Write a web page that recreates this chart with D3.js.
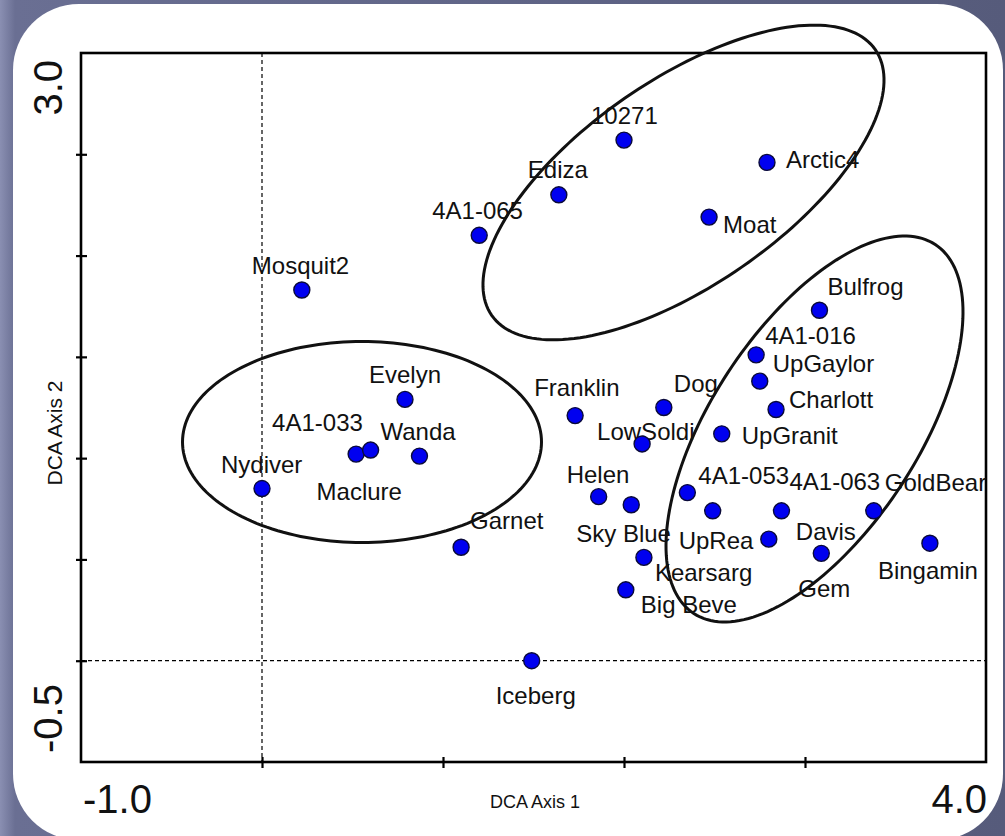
<!DOCTYPE html>
<html>
<head>
<meta charset="utf-8">
<script src="https://cdn.jsdelivr.net/npm/d3@7"></script>
<style>
  html, body { margin: 0; padding: 0; background: #5b6082; }
  svg { display: block; }
  text { font-family: "Liberation Sans", Arial, sans-serif; fill: #111; }
</style>
</head>
<body>
<svg id="chart" width="1005" height="836"></svg>
<script>
// DCA ordination of lake sites: axis 1 vs axis 2 scores
const sites = ["10271", "Ediza", "4A1-065", "Arctic4", "Moat", "Mosquit2", "Nydiver",
  "Evelyn", "4A1-033", "Maclure", "Wanda", "Garnet", "Iceberg", "Franklin", "Dog",
  "LowSoldi", "UpGranit", "Bulfrog", "4A1-016", "UpGaylor", "Charlott", "Helen",
  "Sky Blue", "Kearsarg", "Big Beve", "4A1-053", "UpRea", "4A1-063", "GoldBear",
  "Davis", "Gem", "Bingamin"];
const axis1 = [2.00, 1.64, 1.20, 2.79, 2.47, 0.22, 0.00,
  0.79, 0.52, 0.60, 0.87, 1.10, 1.49, 1.73, 2.22,
  2.10, 2.54, 3.08, 2.73, 2.75, 2.84, 1.86,
  2.04, 2.11, 2.01, 2.35, 2.49, 2.87, 3.38,
  2.80, 3.09, 3.69];
const axis2 = [2.57, 2.30, 2.10, 2.46, 2.19, 1.83, 0.85,
  1.29, 1.02, 1.04, 1.01, 0.56, 0.00, 1.21, 1.25,
  1.07, 1.12, 1.73, 1.51, 1.38, 1.24, 0.81,
  0.77, 0.51, 0.35, 0.83, 0.74, 0.74, 0.74,
  0.60, 0.53, 0.58];

// axis ranges and tick labels
const xDomain = [-1.0, 4.0];
const yDomain = [-0.5, 3.0];
const xTicks = [0, 1, 2, 3];
const yTicks = [0, 0.5, 1.0, 1.5, 2.0, 2.5];
const xEndLabels = ["-1.0", "4.0"];
const yEndLabels = ["-0.5", "3.0"];

// group envelopes: centre and two half-axis vectors, in axis units
const groupCentres = [[0.5525, 1.0797], [2.3287, 2.3608], [3.0525, 1.1439]];
const groupMajor = [[0.9917, 0.0], [1.0597, 0.6556], [0.6669, 0.9108]];
const groupMinor = [[0.0, 0.496], [0.3232, -0.4167], [0.4779, -0.2794]];

// label placement (pixel offsets from each marker to the text baseline start)
const labelOffsets = {
  "10271": [-33, -16], "Ediza": [-31, -17], "4A1-065": [-47, -16], "Arctic4": [19, 6],
  "Moat": [14, 16], "Mosquit2": [-50, -16], "Nydiver": [-41, -16], "Evelyn": [-36, -16],
  "4A1-033": [-84, -23], "Maclure": [-54, 50], "Wanda": [-39, -16], "Garnet": [9, -18],
  "Iceberg": [-36, 43], "Franklin": [-41, -20], "Dog": [10, -16], "LowSoldi": [-45, -4],
  "UpGranit": [20, 10], "Bulfrog": [8, -15], "4A1-016": [9, -11], "UpGaylor": [13, -9],
  "Charlott": [13, -2], "Helen": [-32, -14], "Sky Blue": [-55, 37], "Kearsarg": [11, 24],
  "Big Beve": [15, 23], "4A1-053": [11, -9], "UpRea": [-34, 38], "4A1-063": [8, -21],
  "GoldBear": [11, -20], "Davis": [27, 1], "Gem": [-23, 44], "Bingamin": [-52, 36]
};

const svg = d3.select("#chart");
const W = 1005, H = 836;

// backdrop
const defs = svg.append("defs");
const bg = defs.append("linearGradient").attr("id", "bgGrad")
  .attr("x1", "0").attr("y1", "0").attr("x2", "1").attr("y2", "0");
bg.append("stop").attr("offset", "0").attr("stop-color", "#8a8fb2");
bg.append("stop").attr("offset", "0.015").attr("stop-color", "#6a6f93");
bg.append("stop").attr("offset", "1").attr("stop-color", "#565b7b");
svg.append("rect").attr("width", W).attr("height", H).attr("fill", "url(#bgGrad)");
svg.append("rect").attr("x", 13).attr("y", 4).attr("width", 990).attr("height", 836)
  .attr("rx", 66).attr("ry", 66).attr("fill", "#ffffff");

const x = d3.scaleLinear().domain(xDomain).range([81, 986]);
const y = d3.scaleLinear().domain(yDomain).range([762, 53]);

// zero reference lines
svg.append("line")
  .attr("x1", x(0)).attr("x2", x(0)).attr("y1", y(yDomain[1])).attr("y2", y(yDomain[0]))
  .attr("stroke", "#000").attr("stroke-width", 1.2).attr("stroke-dasharray", "4,3");
svg.append("line")
  .attr("x1", x(xDomain[0])).attr("x2", x(xDomain[1])).attr("y1", y(0)).attr("y2", y(0))
  .attr("stroke", "#000").attr("stroke-width", 1.2).attr("stroke-dasharray", "4,3");

// axes with ticks crossing the axis line
const gx = svg.append("g").attr("transform", `translate(0,${y(yDomain[0])})`)
  .call(d3.axisBottom(x).tickValues(xTicks).tickSize(0).tickFormat(""));
gx.select(".domain").remove();
gx.selectAll(".tick").append("line").attr("y1", -5).attr("y2", 6)
  .attr("stroke", "#000").attr("stroke-width", 2.2);

const gy = svg.append("g").attr("transform", `translate(${x(xDomain[0])},0)`)
  .call(d3.axisLeft(y).tickValues(yTicks).tickSize(0).tickFormat(""));
gy.select(".domain").remove();
gy.selectAll(".tick").append("line").attr("x1", -5).attr("x2", 6)
  .attr("stroke", "#000").attr("stroke-width", 2.2);

// plot frame
svg.append("rect")
  .attr("x", x(xDomain[0])).attr("y", y(yDomain[1]))
  .attr("width", x(xDomain[1]) - x(xDomain[0]))
  .attr("height", y(yDomain[0]) - y(yDomain[1]))
  .attr("fill", "none").attr("stroke", "#000").attr("stroke-width", 2.6);

// end-of-axis labels
svg.append("text").attr("x", x(xDomain[0]) + 2).attr("y", 813)
  .attr("font-size", 40).attr("text-anchor", "start").text(xEndLabels[0]);
svg.append("text").attr("x", x(xDomain[1]) + 1).attr("y", 813)
  .attr("font-size", 40).attr("text-anchor", "end").text(xEndLabels[1]);
svg.append("text").attr("transform", `translate(62,${y(yDomain[0]) - 9}) rotate(-90)`)
  .attr("font-size", 40).attr("text-anchor", "start").text(yEndLabels[0]);
svg.append("text").attr("transform", `translate(62,${y(yDomain[1]) + 7}) rotate(-90)`)
  .attr("font-size", 40).attr("text-anchor", "end").text(yEndLabels[1]);

// axis titles
svg.append("text").attr("x", 535).attr("y", 808).attr("font-size", 18)
  .attr("text-anchor", "middle").text("DCA Axis 1");
svg.append("text").attr("transform", "translate(62,433) rotate(-90)")
  .attr("font-size", 21).attr("text-anchor", "middle").text("DCA Axis 2");

// group envelopes
const line = d3.line().x(d => x(d[0])).y(d => y(d[1])).curve(d3.curveLinearClosed);
groupCentres.forEach((c, i) => {
  const u = groupMajor[i], v = groupMinor[i];
  const pts = d3.range(0, 360, 2).map(deg => {
    const t = deg * Math.PI / 180;
    return [c[0] + Math.cos(t) * u[0] + Math.sin(t) * v[0],
            c[1] + Math.cos(t) * u[1] + Math.sin(t) * v[1]];
  });
  svg.append("path").attr("d", line(pts))
    .attr("fill", "none").attr("stroke", "#111").attr("stroke-width", 3);
});

const data = sites.map((s, i) => ({ name: s, a1: axis1[i], a2: axis2[i] }));

// site labels
svg.append("g").selectAll("text").data(data).join("text")
  .attr("x", d => x(d.a1) + labelOffsets[d.name][0])
  .attr("y", d => y(d.a2) + labelOffsets[d.name][1])
  .attr("font-size", 24)
  .text(d => d.name);

// site markers
svg.append("g").selectAll("circle").data(data).join("circle")
  .attr("cx", d => x(d.a1)).attr("cy", d => y(d.a2)).attr("r", 8)
  .attr("fill", "#0000f0").attr("stroke", "#0a0a3a").attr("stroke-width", 1.4);
</script>
</body>
</html>
